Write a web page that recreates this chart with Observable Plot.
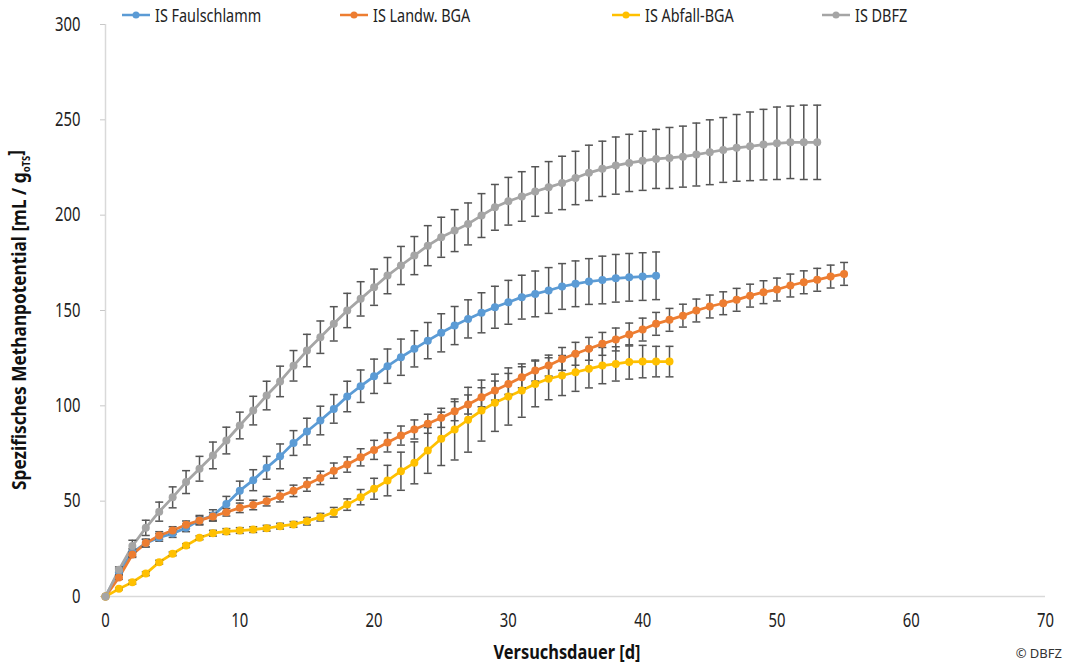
<!DOCTYPE html>
<html><head><meta charset="utf-8">
<script src="https://cdn.jsdelivr.net/npm/d3@7"></script>
<script src="https://cdn.jsdelivr.net/npm/@observablehq/plot@0.6"></script>
<style>
body{margin:0;background:#fff;}
#wrap{position:relative;width:1070px;height:667px;font-family:"Noto Sans","Roboto",sans-serif;}
#legend{position:absolute;left:0;top:3px;width:1070px;height:24px;font-size:18px;color:#222;}
.item{position:absolute;top:0;display:flex;align-items:center;height:24px;white-space:nowrap;}
.item svg{margin-right:5px;}
.item span{display:inline-block;transform:scaleX(0.8);transform-origin:left center;}
</style></head>
<body><div id="wrap"><div id="legend"></div></div>
<script>
const seriesNames = ["IS Faulschlamm", "IS Landw. BGA", "IS Abfall-BGA", "IS DBFZ"];
const seriesColors = ["#5B9BD5", "#ED7D31", "#FFC000", "#A5A5A5"];
const xTicks = [0, 10, 20, 30, 40, 50, 60, 70];
const yTicks = [0, 50, 100, 150, 200, 250, 300];

// daily values (day = index)
const faulschlamm = [0,13,23,28,31,33,36,40,42.5,48.5,55.5,61,67.5,73.5,80.5,86.5,92.3,98.4,104.9,110.3,115.5,120.8,125.5,129.9,134.2,138.3,142.1,145.6,148.8,151.7,154.3,157,158.7,160.5,162.6,164,165.2,166,166.9,167.4,167.8,168.2];
const faulschlammErr = [0,1.5,2,2,2,2,2,2.5,3,4,5,5.5,6,6.5,6.5,7,7.5,7.5,8,8.5,9,9,9.5,9.5,9.5,10,10,10,10.5,11,11.5,11.5,12,12,12,12,12,12.5,12.5,12.5,12.5,12.5];

const landw = [0,10,22,28,32,34.6,37.6,39.9,42,44.2,46.5,48,50,52.6,55.4,58.7,62.2,66,69.2,73,76.9,80.8,84.4,87.6,90.6,93.7,97.2,100.7,104.5,108,111.5,115,118.5,121.1,124.6,127.3,129.9,132.5,134.8,137.4,140,143,145.1,147.3,150,152.1,153.8,155.6,157.8,159.6,161,163.1,164.8,166.1,167.8,169.2];
const landwErr = [0,1,1.5,2,2,2,2,2,2,2, 2.5,2.5,2.5,3,3,3.5,3.5,4,4,4.5, 5,5,5,5,5,5,5,5,5,5, 5.5,5.5,5.5,5.5,6,6,6,6,6,6, 6,6,6,6,6,6,6,6,6,6, 6,6,6,6,6,6];

const abfall = [0,4,7.5,12,18,22.4,26.7,30.8,33.2,34.1,34.6,35.1,35.8,36.9,37.8,39.5,41.6,44.2,48.2,52.1,56.5,60.8,65.7,70.1,76.6,82.7,87.6,92.7,97.5,101.6,104.9,108,111.5,114.2,115.9,117.6,119.4,121.1,122,123,123.2,123.2,123.2];
const abfallErr = [0,0.5,1,1,1,1,1,1,1.5,1.5,1.5,1.5,1.5,1.5,1.5,2,2,2.5,3,4,5.5,8,10,11,12,14,16,17,16,15,15,14,12,11,10.5,10,10,9.5,9,9,8.5,8,8];

const dbfz = [0,14,26.5,36,44.5,52,60,67,74,81.8,89.7,97.5,105.4,112.8,121,129,136,143,150,156.1,162.2,168.3,173.6,178.8,184,188.4,191.9,195.4,199.8,204.1,207.3,209.8,212.4,214.6,216.9,219.5,222.2,224.3,226,227.4,228.5,229.5,230,230.7,231.8,233,234.2,235.3,236.1,237,237.7,238.2,238.2,238.2];
const dbfzErr = [0,1.5,3,4,5,5.5,6,6.5,7,7,7,7.5,7.5,8,8,8.5,8.5,9,9,9,9.5,9.5,10,10,10.5,10.5,11,11,11.5,12,12.5,13,13,13.5,14,14,14.5,14.5,15,15,15.5,15.5,16,16,16.5,17,17,17.5,18,18.5,19,19,19.5,19.5];

const seriesValues = [faulschlamm, landw, abfall, dbfz];
const seriesErrors = [faulschlammErr, landwErr, abfallErr, dbfzErr];

const rows = [];
seriesNames.forEach((name, i) => {
  seriesValues[i].forEach((v, day) => rows.push({series: name, day, value: v, err: seriesErrors[i][day]}));
});
const errRows = rows.filter(d => d.err > 0);

const FONT = '"Noto Sans","Roboto",sans-serif';
const cap = {draw(ctx) { ctx.moveTo(-4, 0); ctx.lineTo(4, 0); }};
const barColor = "#555555";

const chart = Plot.plot({
  width: 1070, height: 667,
  marginLeft: 105, marginRight: 25, marginTop: 24, marginBottom: 71,
  style: {fontFamily: FONT, fontSize: "19px", color: "#222", background: "#fff"},
  x: {domain: [0, 70]},
  y: {domain: [0, 300]},
  color: {domain: seriesNames, range: seriesColors},
  marks: [
    Plot.ruleY([0], {stroke: "#d9d9d9", strokeWidth: 1.5}),
    Plot.ruleX([0], {stroke: "#d9d9d9", strokeWidth: 1.5}),
    Plot.axisY({ticks: yTicks, tickSize: 5, tickPadding: 20, stroke: "#c8c8c8", fill: "#222", label: null, fontSize: 19}),
    Plot.axisX({ticks: xTicks, tickSize: 0, tickPadding: 17, fill: "#222", label: null, fontSize: 19}),
    Plot.line(rows, {x: "day", y: "value", z: "series", stroke: "series", strokeWidth: 2.75}),
    Plot.ruleX(errRows, {x: "day", y1: d => d.value - d.err, y2: d => d.value + d.err, stroke: barColor, strokeWidth: 1.5}),
    Plot.dot(errRows, {x: "day", y: d => d.value - d.err, symbol: cap, stroke: barColor, strokeWidth: 1.5}),
    Plot.dot(errRows, {x: "day", y: d => d.value + d.err, symbol: cap, stroke: barColor, strokeWidth: 1.5}),
    Plot.dot(rows, {x: "day", y: "value", fill: "series", r: 4})
  ]
});

const svg = d3.select(chart);
const yl = svg.append("text")
  .attr("class", "ylab")
  .attr("transform", "translate(26,320) rotate(-90)")
  .attr("text-anchor", "middle")
  .attr("font-weight", "bold")
  .attr("font-size", 20)
  .attr("fill", "#111");
yl.append("tspan").text("Spezifisches Methanpotential [mL / g");
yl.append("tspan").attr("dy", 4).attr("font-size", 11).text("oTS");
yl.append("tspan").attr("dy", -8).text("]");

svg.append("text")
  .attr("class", "xlab")
  .attr("x", 567).attr("y", 659)
  .attr("text-anchor", "middle")
  .attr("font-weight", "bold")
  .attr("font-size", 20)
  .attr("fill", "#111")
  .text("Versuchsdauer [d]");

svg.append("text")
  .attr("class", "copy")
  .attr("x", 1062).attr("y", 658)
  .attr("text-anchor", "end")
  .attr("font-size", 13)
  .attr("fill", "#333")
  .text("© DBFZ");

const wrap = document.getElementById("wrap");
wrap.insertBefore(chart, wrap.firstChild);

// condensed look: compress glyphs horizontally
chart.querySelectorAll("text").forEach(t => {
  if (t.classList.contains("copy")) return;
  const w = t.getComputedTextLength();
  let target = w * 0.78;
  if (t.classList.contains("ylab")) target = 340;
  if (t.classList.contains("xlab")) target = 147;
  t.setAttribute("textLength", target.toFixed(1));
  t.setAttribute("lengthAdjust", "spacingAndGlyphs");
});

const legendLeft = [122, 340, 612, 822];
const legend = document.getElementById("legend");
seriesNames.forEach((name, i) => {
  const item = document.createElement("div");
  item.className = "item";
  item.style.left = legendLeft[i] + "px";
  item.innerHTML = `<svg width="28" height="10"><line x1="0" y1="5" x2="28" y2="5" stroke="${seriesColors[i]}" stroke-width="2.5"/><circle cx="14" cy="5" r="3.5" fill="${seriesColors[i]}"/></svg>`;
  const span = document.createElement("span");
  span.textContent = name;
  item.appendChild(span);
  legend.appendChild(item);
});
</script>
</body></html>
